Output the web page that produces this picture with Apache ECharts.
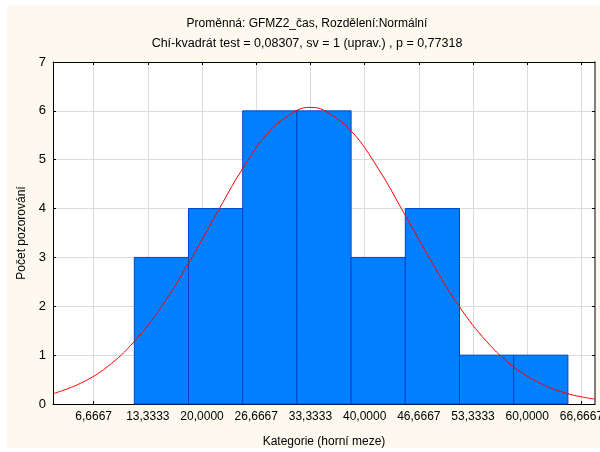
<!DOCTYPE html>
<html>
<head>
<meta charset="utf-8">
<script src="https://cdn.jsdelivr.net/npm/echarts@6/dist/echarts.min.js"></script>
<style>
  html, body { margin: 0; padding: 0; background: #ffffff; }
  #chart { width: 600px; height: 452px; }
</style>
</head>
<body>
<div id="chart"></div>
<script>
// Histogram of GFMZ2_čas with the expected normal curve
const xMin = 1.6667;
const xMax = 68.3333;
const xTickValues = [6.6667, 13.3333, 20.0, 26.6667, 33.3333, 40.0, 46.6667, 53.3333, 60.0, 66.6667];
const yTickMax = 7;

// class limits and observed counts
const binLower = [11.6667, 18.3333, 25.0, 31.6667, 38.3333, 45.0, 51.6667, 58.3333];
const binUpper = [18.3333, 25.0, 31.6667, 38.3333, 45.0, 51.6667, 58.3333, 65.0];
const counts = [3, 4, 6, 6, 3, 4, 1, 1];

// expected normal curve (points along the fitted line)
const curveX = [1.6667, 5.0, 8.3333, 11.6667, 15.0, 18.3333, 21.6667, 25.0, 28.3333, 31.6667,
                33.3333, 35.0, 38.3333, 41.6667, 45.0, 48.3333, 51.6667, 55.0, 58.3333, 61.6667,
                65.0, 68.3333];
const curveY = [0.21, 0.42, 0.76, 1.28, 1.99, 2.88, 3.86, 4.82, 5.59, 6.01,
                6.07, 6.01, 5.59, 4.82, 3.86, 2.88, 1.99, 1.28, 0.76, 0.42,
                0.21, 0.10];

const titleLine1 = 'Proměnná: GFMZ2_čas, Rozdělení:Normální';
const titleLine2 = 'Chí-kvadrát test = 0,08307, sv = 1 (uprav.) , p = 0,77318';
const xName = 'Kategorie (horní meze)';
const yName = 'Počet pozorování';

const FONT = 'Arial, "Liberation Sans", sans-serif';

const barData = binLower.map((lo, i) => [lo, binUpper[i], counts[i]]);
const curveData = curveX.map((x, i) => [x, curveY[i]]);

const chart = echarts.init(document.getElementById('chart'), null, { renderer: 'canvas' });

const fmt = v => v.toFixed(4).replace('.', ',');

chart.setOption({
  animation: false,
  backgroundColor: '#ffffff',
  graphic: {
    elements: [
      { type: 'rect', z: -100, silent: true,
        shape: { x: 7, y: 5, width: 593, height: 443 },
        style: { fill: '#FDF9EF' } },
      { type: 'text', z: 10, silent: true,
        style: { text: titleLine1, x: 307, y: 24, align: 'center', verticalAlign: 'middle',
                 font: '12px ' + FONT, fill: '#000' } },
      { type: 'text', z: 10, silent: true,
        style: { text: titleLine2, x: 307, y: 44, align: 'center', verticalAlign: 'middle',
                 font: '12.5px ' + FONT, fill: '#000' } }
    ]
  },
  grid: {
    left: 53, top: 62, width: 542, height: 342,
    outerBoundsMode: 'none', containLabel: false,
    show: true, backgroundColor: '#ffffff', borderWidth: 0
  },
  xAxis: [
    {
      type: 'value', position: 'bottom', min: xMin, max: xMax,
      name: xName, nameLocation: 'middle', nameGap: 32,
      nameTextStyle: { fontFamily: FONT, fontSize: 12, color: '#000' },
      axisLine: { show: true, onZero: false, lineStyle: { color: '#000', width: 1 } },
      axisTick: { show: true, inside: true, length: 3, customValues: xTickValues,
                  lineStyle: { color: '#000' } },
      axisLabel: { show: true, margin: 7, customValues: xTickValues, formatter: fmt,
                   hideOverlap: false, fontFamily: FONT, fontSize: 12, color: '#000' },
      splitLine: { show: true, lineStyle: { color: '#dcdcdc', width: 1 } }
    },
    {
      type: 'value', position: 'top', min: xMin, max: xMax,
      axisLine: { show: true, onZero: false, lineStyle: { color: '#000', width: 1 } },
      axisTick: { show: true, inside: true, length: 3, customValues: xTickValues,
                  lineStyle: { color: '#000' } },
      axisLabel: { show: false },
      splitLine: { show: false }
    }
  ],
  yAxis: [
    {
      type: 'value', position: 'left', min: 0, max: yTickMax, interval: 1,
      name: yName, nameLocation: 'middle', nameGap: 18,
      nameTextStyle: { fontFamily: FONT, fontSize: 12, color: '#000' },
      axisLine: { show: true, onZero: false, lineStyle: { color: '#000', width: 1 } },
      axisTick: { show: true, inside: true, length: 3, lineStyle: { color: '#000' } },
      axisLabel: { show: true, margin: 7, fontFamily: FONT, fontSize: 13, color: '#000' },
      splitLine: { show: true, lineStyle: { color: '#dcdcdc', width: 1 } }
    },
    {
      type: 'value', position: 'right', min: 0, max: yTickMax, interval: 1,
      axisLine: { show: true, onZero: false, lineStyle: { color: '#555', width: 1.5 } },
      axisTick: { show: true, inside: true, length: 3, lineStyle: { color: '#000' } },
      axisLabel: { show: false },
      splitLine: { show: false }
    }
  ],
  series: [
    {
      type: 'custom',
      xAxisIndex: 0, yAxisIndex: 0,
      data: barData,
      encode: { x: [0, 1], y: 2 },
      renderItem: function (params, api) {
        const p0 = api.coord([api.value(0), api.value(2)]);
        const p1 = api.coord([api.value(1), 0]);
        return {
          type: 'rect',
          shape: { x: p0[0], y: p0[1], width: p1[0] - p0[0], height: p1[1] - p0[1] },
          style: { fill: '#0080FF', stroke: '#0044C4', lineWidth: 1 }
        };
      },
      z: 2
    },
    {
      type: 'line',
      xAxisIndex: 0, yAxisIndex: 0,
      data: curveData,
      smooth: 0.4,
      showSymbol: false,
      lineStyle: { color: '#FF0000', width: 1 },
      z: 3
    }
  ]
});
</script>
</body>
</html>
